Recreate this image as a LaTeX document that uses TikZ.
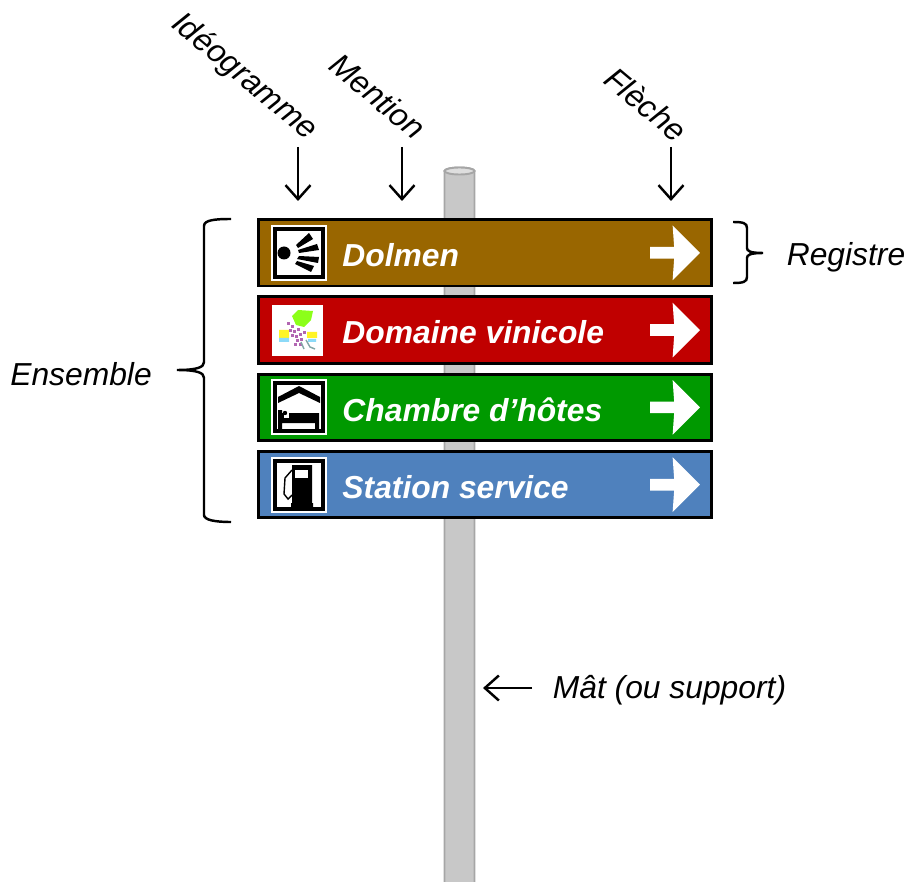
\documentclass[tikz,border=0pt]{standalone}
\usepackage{fontspec}
\setmainfont{Liberation Sans}
\usepackage{tikz}
\usetikzlibrary{shapes,arrows.meta}
\definecolor{brownpanel}{HTML}{996600}
\definecolor{redpanel}{HTML}{C00000}
\definecolor{greenpanel}{HTML}{009900}
\definecolor{bluepanel}{HTML}{4F81BD}
\definecolor{polegray}{HTML}{C8C8C8}
\definecolor{poleedge}{HTML}{A6A6A6}
\tikzstyle{panel} = [rectangle, draw=black, line width=1.6pt,
    minimum width=9.06cm, minimum height=1.33cm, inner sep=0pt]
\tikzstyle{mention} = [anchor=west, text=white, inner sep=0pt, yshift=-.04cm,
    font=\fontsize{18.1}{20}\selectfont\bfseries\itshape]
\tikzstyle{way} = [single arrow, fill=white, inner sep=0pt, minimum height=1cm,
    text height=.22cm, text depth=0pt, single arrow head extend=.43cm,
    single arrow head indent=.03cm]
\tikzstyle{iconbox} = [rectangle, draw=black, fill=white, line width=2.3pt,
    minimum size=.96cm, inner sep=0pt, preaction={draw=white, line width=4.6pt}]
\tikzstyle{caption} = [inner sep=0pt, font=\fontsize{18.1}{20}\selectfont\itshape]
\tikzstyle{pointer} = [draw, line width=1.4pt, -{Straight Barb[length=2.8mm, width=5mm]}]
\tikzstyle{bracket} = [draw, line width=1.4pt]

\begin{document}
\begin{tikzpicture}[x=.02cm, y=-.02cm, node distance=1.546cm]
\useasboundingbox (0,0) rectangle (908,881);

    % Mast
\path[fill=polegray, draw=poleedge, line width=1.1pt] (444.5,890) -- (444.5,171)
  arc[start angle=180, end angle=0, x radius=15, y radius=-3.5] -- (474.5,890) -- cycle;
\draw[fill=polegray!60!white, draw=poleedge, line width=1.1pt] (459.5,171) ellipse [x radius=15, y radius=3.5];

    % Place panels
\node[panel, fill=brownpanel] (dolmen) at (485,252.8) {};
\node[panel, fill=redpanel, below of=dolmen] (domaine) {};
\node[panel, fill=greenpanel, below of=domaine] (chambre) {};
\node[panel, fill=bluepanel, below of=chambre] (station) {};

\node[mention] (tdolmen) at ([xshift=1.7cm]dolmen.west) {Dolmen};
\node[mention] (tdomaine) at ([xshift=1.7cm]domaine.west) {Domaine vinicole};
\node[mention] (tchambre) at ([xshift=1.7cm]chambre.west) {Chambre d’hôtes};
\node[mention] (tstation) at ([xshift=1.7cm]station.west) {Station service};

\foreach \p in {dolmen,domaine,chambre,station}
  \node[way] (arrow\p) at ([xshift=8.3cm]\p.west) {};

    % Ideograms
\node[iconbox] (idolmen) at ([xshift=.83cm]dolmen.west) {};
\fill (284,253) circle (6.5);
\fill (296,245) -- (309,233) -- (313,239) -- (298,248) -- cycle;
\fill (298,250) -- (317,244) -- (319,250) -- (299,253) -- cycle;
\fill (299,256) -- (319,257) -- (318,263) -- (297,259) -- cycle;
\fill (297,261) -- (314,266) -- (311,272) -- (295,264) -- cycle;

\node[rectangle, fill=white, minimum width=1.02cm, minimum height=1.02cm, inner sep=0pt]
  (idomaine) at ([xshift=.81cm]domaine.west) {};
\fill[yellow!85!white] (279,330) rectangle (289,338) (307,332) rectangle (317,338);
\fill[cyan!45!white] (279,338) rectangle (289,342) (308,339) rectangle (316,342);
\fill[green!50!yellow!90!white] (292,316) -- (298,310) -- (313,311) -- (311,320) -- (304,327) -- (296,325) -- cycle;
\foreach \x/\y in {287/322,291/325,289/329,293/330,297/328,291/334,295/335,299/333,303/331,296/339,300/338,294/343,299/343}
  \fill[violet!60!white] (\x,\y) rectangle +(3,3);
\draw[teal!40!gray!70!white, line width=.8pt] (301,342) -- (304,349) (306,340) -- (310,347) -- (315,349);

\node[iconbox] (ichambre) at ([xshift=.83cm]chambre.west) {};
\fill (299,386) -- (320,397) -- (320,403) -- (299,393) -- (278,403) -- (278,397) -- cycle;
\fill (278,410) rectangle (282,429) (315,413) rectangle (319,429) (282,413) rectangle (319,423);
\fill[white] (284,412) rectangle (289,418);
\fill (285,413) circle (2.2);

\node[iconbox] (istation) at ([xshift=.83cm]station.west) {};
\fill (292,465) rectangle (312,503) (291,503) rectangle (313,507);
\fill[white] (295,470) rectangle (308,478);
\draw[line width=.8pt] (292,470) -- (285,478) -- (284,494) -- (288,499) -- (292,495);

    % Captions
\node[caption, rotate=-40] (cideo) at (244,77) {Idéogramme};
\node[caption, rotate=-40] (cment) at (378,96) {Mention};
\node[caption, rotate=-40] (cfleche) at (646,104) {Flèche};
\node[caption] (cregistre) at (846,257) {Registre};
\node[caption] (censemble) at (81,374) {Ensemble};
\node[caption] (cmat) at (669.5,690) {Mât (ou support)};

\coordinate (aideo) at (298,147); \coordinate (bideo) at (298,201);
\coordinate (ament) at (402,147); \coordinate (bment) at (402,201);
\coordinate (afleche) at (671,147); \coordinate (bfleche) at (671,201);
\coordinate (amat) at (532,688); \coordinate (bmat) at (483,688);

    % Draw pointers
\path [pointer] (aideo) -- (bideo);
\path [pointer] (ament) -- (bment);
\path [pointer] (afleche) -- (bfleche);
\path [pointer] (amat) -- (bmat);

    % Braces
\path [bracket] (231,219) .. controls (215,219) and (204,220) .. (204,226) -- (204,362)
  .. controls (204,367) and (198,370) .. (177,370) .. controls (198,370) and (204,373) .. (204,378)
  -- (204,515) .. controls (204,520) and (215,522) .. (231,522);
\path [bracket] (733,222) .. controls (743,222) and (747,223) .. (747,228) -- (747,248)
  .. controls (747,251) and (750,253) .. (763,253) .. controls (750,253) and (747,255) .. (747,258)
  -- (747,277) .. controls (747,282) and (743,283) .. (733,283);
\end{tikzpicture}
\end{document}
